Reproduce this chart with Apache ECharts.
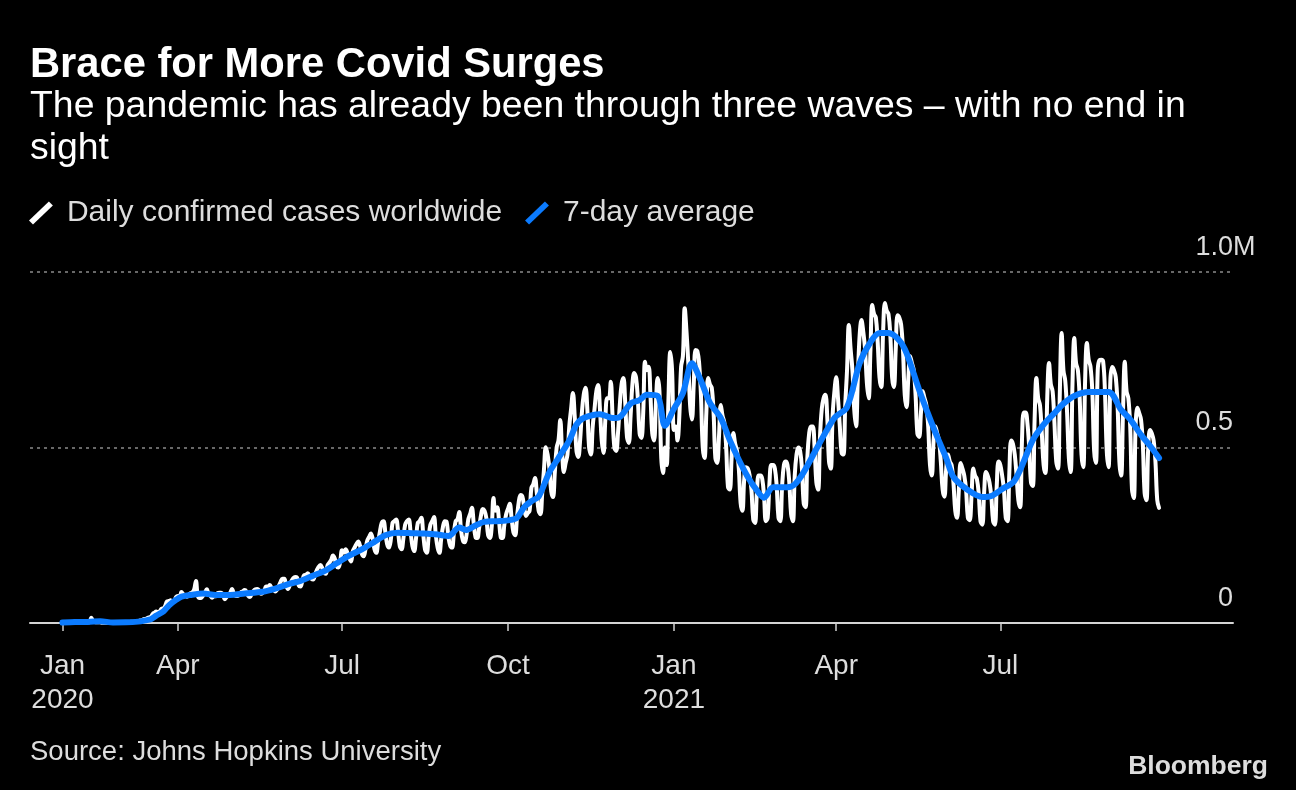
<!DOCTYPE html>
<html>
<head>
<meta charset="utf-8">
<script src="https://cdn.jsdelivr.net/npm/echarts@6/dist/echarts.min.js"></script>
<style>
  html, body { margin: 0; padding: 0; background: #000; }
  #chart { width: 1296px; height: 790px; }
</style>
</head>
<body>
<div id="chart"></div>
<script>
// ---------------- DATA ----------------
// Daily confirmed cases worldwide (thousands), one row per week (Tue..Mon), starting 2020-01-28
const dailyStart = '2020-01-28';
const dailyCasesK = [
  1.5, 1.7, 2.0, 2.1, 2.6, 2.8, 3.2,
  3.9, 3.7, 3.2, 3.4, 2.7, 3.0, 2.5,
  2.1, 2.0, 15.2, 5.1, 2.6, 2.0, 2.1,
  1.9, 0.6, 1.0, 1.0, 1.0, 1.5, 0.6,
  1.0, 1.0, 1.4, 1.8, 1.8, 1.9, 1.8,
  2.4, 2.2, 2.9, 3.9, 3.9, 3.9, 4.0,
  4.8, 7.2, 7.5, 10.9, 11.6, 13.9, 16.1,
  17.9, 25.7, 29.3, 32.6, 30.8, 33.8, 41.0,
  41.4, 49.4, 61.7, 62.6, 65.0, 57.2, 62.6,
  74, 77, 77, 88, 82, 80, 75,
  80, 85, 87, 95, 120, 78, 71,
  72, 78, 86, 96, 83, 78, 72,
  76, 76, 85, 86, 86, 81, 68,
  74, 78, 86, 97, 84, 77, 77,
  80, 88, 90, 94, 90, 77, 74,
  84, 92, 96, 97, 93, 83, 86,
  94, 104, 104, 108, 100, 98, 90,
  95, 106, 118, 126, 126, 106, 97,
  107, 120, 128, 131, 130, 107, 104,
  121, 136, 137, 142, 133, 126, 124,
  137, 150, 160, 165, 157, 143, 140,
  165, 172, 180, 192, 183, 162, 158,
  175, 207, 200, 210, 200, 185, 175,
  205, 215, 225, 232, 220, 197, 190,
  210, 235, 245, 255, 240, 210, 200,
  230, 260, 285, 290, 260, 225, 215,
  235, 285, 290, 295, 265, 220, 210,
  240, 280, 290, 295, 260, 220, 205,
  240, 285, 290, 300, 255, 210, 200,
  245, 280, 290, 302, 250, 215, 200,
  240, 275, 290, 288, 245, 220, 215,
  255, 290, 295, 316, 265, 235, 230,
  250, 295, 310, 328, 285, 245, 242,
  270, 305, 325, 320, 300, 250, 242,
  275, 356, 320, 330, 295, 245, 242,
  280, 310, 325, 340, 300, 259, 250,
  300, 345, 365, 360, 330, 305, 313,
  320, 385, 395, 413, 370, 320, 310,
  370, 440, 501, 480, 440, 375, 359,
  430, 500, 520, 578, 490, 430, 456,
  480, 560, 610, 655, 590, 490, 473,
  520, 600, 650, 670, 610, 500, 480,
  560, 610, 660, 678, 610, 520, 484,
  580, 640, 640, 687, 590, 500, 490,
  540, 620, 680, 698, 630, 530, 513,
  590, 680, 712, 700, 640, 540, 527,
  600, 744, 720, 730, 650, 540, 520,
  620, 698, 660, 470, 427, 500, 450,
  640, 772, 720, 550, 560, 520, 587,
  730, 760, 897, 830, 740, 620, 580,
  680, 778, 775, 740, 650, 500, 470,
  600, 698, 680, 670, 600, 470, 456,
  530, 621, 590, 570, 500, 387, 380,
  470, 541, 510, 490, 440, 342, 320,
  410, 444, 440, 420, 380, 295, 285,
  370, 420, 420, 410, 360, 290, 300,
  400, 450, 450, 440, 390, 300, 290,
  390, 450, 460, 450, 400, 310, 290,
  420, 480, 500, 490, 440, 340, 330,
  470, 540, 560, 560, 500, 400, 380,
  530, 610, 640, 650, 590, 460, 440,
  590, 660, 700, 640, 560, 484, 480,
  620, 720, 849, 780, 720, 607, 560,
  700, 820, 863, 830, 780, 684, 640,
  780, 906, 880, 870, 800, 700, 672,
  830, 912, 890, 880, 820, 700, 672,
  780, 877, 870, 850, 780, 650, 615,
  700, 760, 740, 720, 650, 540, 530,
  600, 660, 640, 620, 560, 450, 420,
  520, 560, 540, 520, 460, 380, 360,
  440, 480, 460, 450, 400, 320, 300,
  380, 456, 440, 420, 380, 300, 293,
  360, 440, 420, 410, 370, 290, 280,
  370, 430, 420, 400, 360, 290, 280,
  390, 460, 450, 420, 380, 300, 290,
  430, 520, 510, 480, 420, 350, 330,
  520, 600, 600, 570, 500, 400, 390,
  580, 698, 640, 620, 540, 450, 427,
  640, 741, 680, 660, 570, 460, 440,
  660, 826, 720, 690, 600, 470, 430,
  680, 812, 740, 720, 640, 480, 444,
  690, 798, 750, 730, 660, 490, 456,
  720, 749, 750, 745, 660, 490, 444,
  690, 729, 720, 700, 620, 460, 420,
  600, 744, 660, 640, 560, 380, 356,
  560, 613, 598, 580, 510, 370, 350,
  500, 550, 540, 520, 460, 350, 328
];

// 7-day average (thousands), read at these dates
const avgDates = [
  '2020-01-28','2020-02-04','2020-02-11','2020-02-18','2020-02-25','2020-03-03','2020-03-10','2020-03-14',
  '2020-03-17','2020-03-20','2020-03-24','2020-03-27','2020-03-31','2020-04-03','2020-04-08','2020-04-15',
  '2020-04-22','2020-04-30','2020-05-08','2020-05-18','2020-05-25','2020-06-02','2020-06-08','2020-06-15',
  '2020-06-22','2020-06-28','2020-07-05','2020-07-12','2020-07-18','2020-07-25','2020-08-01','2020-08-09',
  '2020-08-16','2020-08-23','2020-08-29','2020-09-04','2020-09-08','2020-09-13','2020-09-18','2020-09-25',
  '2020-10-02','2020-10-06','2020-10-10','2020-10-14','2020-10-18','2020-10-24','2020-10-29','2020-11-04',
  '2020-11-08','2020-11-12','2020-11-21','2020-11-28','2020-12-02','2020-12-08','2020-12-13','2020-12-17',
  '2020-12-23','2020-12-27','2021-01-01','2021-01-06','2021-01-11','2021-01-16','2021-01-21','2021-01-27',
  '2021-02-01','2021-02-06','2021-02-11','2021-02-15','2021-02-20','2021-02-25','2021-03-05','2021-03-09',
  '2021-03-14','2021-03-22','2021-03-31','2021-04-07','2021-04-14','2021-04-20','2021-04-25','2021-04-30',
  '2021-05-06','2021-05-10','2021-05-17','2021-05-22','2021-05-27','2021-06-01','2021-06-05','2021-06-13',
  '2021-06-21','2021-06-26','2021-07-03','2021-07-08','2021-07-12','2021-07-19','2021-07-25','2021-07-31',
  '2021-08-05','2021-08-11','2021-08-19','2021-08-30','2021-09-06','2021-09-11','2021-09-17','2021-09-22',
  '2021-09-27'
];
const avgValuesK = [
  1.5, 3.0, 3.2, 5.0, 1.5, 1.8, 3.9, 7.5,
  11, 21, 33, 50, 66, 75, 80, 84,
  80, 80, 84, 89, 98, 112, 120, 135,
  150, 170, 192, 210, 228, 250, 257, 256,
  255, 252, 248, 272, 265, 278, 288, 290,
  293, 300, 330, 347, 360, 430, 470, 520,
  565, 584, 595, 584, 587, 625, 635, 650,
  647, 562, 610, 655, 740, 690, 627, 584,
  521, 465, 416, 385, 357, 387, 387, 395,
  430, 505, 584, 615, 740, 800, 826, 826,
  805, 769, 664, 595, 530, 470, 416, 379,
  359, 362, 385, 400, 436, 521, 565, 598,
  625, 647, 658, 658, 607, 580, 536, 505,
  470
];

const tickDates = ['2020-01-28', '2020-04-01', '2020-07-01', '2020-10-01', '2021-01-01', '2021-04-01', '2021-07-01'];
const tickLabels = ['Jan\n2020', 'Apr', 'Jul', 'Oct', 'Jan\n2021', 'Apr', 'Jul'];
const yTickValues = [0, 500000, 1000000];
const yTickLabels = ['0', '0.5', '1.0'];
const yUnit = 'M';
const axisStart = '2020-01-10';
const axisEnd = '2021-11-07';

// ---------------- BUILD ----------------
function ts(s) { const p = s.split('-').map(Number); return Date.UTC(p[0], p[1] - 1, p[2]); }
const DAY = 86400000;
const t0 = ts(dailyStart);
const dailySeries = dailyCasesK.map((v, i) => [t0 + i * DAY, v * 1000]);
const avgSeries = avgDates.map((d, i) => [ts(d), avgValuesK[i] * 1000]);
const tickTs = tickDates.map(ts);

const BLUE = '#0b7bff';
const LIGHT = '#dddddd';
const FONT = '"Liberation Sans", Arial, sans-serif';
const SLASH = 'path://M0,20 L4.2,24.3 L25.2,4.3 L21,0 Z';

const chart = echarts.init(document.getElementById('chart'), null, { renderer: 'canvas' });
chart.setOption({
  backgroundColor: '#000',
  animation: false,
  textStyle: { fontFamily: FONT },
  title: [
    { text: 'Brace for More Covid Surges', left: 30, top: 45, padding: 0,
      textStyle: { color: '#fff', fontSize: 41.7, fontWeight: 'bold', lineHeight: 42, fontFamily: FONT } },
    { text: 'The pandemic has already been through three waves – with no end in\nsight', left: 30, top: 86, padding: 0,
      textStyle: { color: '#fff', fontSize: 37.4, fontWeight: 'normal', lineHeight: 42, fontFamily: FONT } },
    { text: 'Source: Johns Hopkins University', left: 30, top: 739, padding: 0,
      textStyle: { color: LIGHT, fontSize: 27.5, fontWeight: 'normal', lineHeight: 27, fontFamily: FONT } },
    { text: 'Bloomberg', right: 28, top: 753, padding: 0,
      textStyle: { color: LIGHT, fontSize: 26.5, fontWeight: 'bold', lineHeight: 27, fontFamily: FONT } }
  ],
  legend: {
    left: 29, top: 198, padding: 0,
    itemWidth: 24, itemHeight: 23, itemGap: 23,
    selectedMode: false,
    textStyle: { color: LIGHT, fontSize: 30, fontFamily: FONT, padding: [0, 0, 0, 9] },
    data: [
      { name: 'Daily confirmed cases worldwide', icon: SLASH, itemStyle: { color: '#fff' } },
      { name: '7-day average', icon: SLASH, itemStyle: { color: BLUE } }
    ]
  },
  grid: { left: 30, right: 63, top: 272, bottom: 167, containLabel: false },
  xAxis: {
    type: 'value',
    min: ts(axisStart),
    max: ts(axisEnd),
    axisLine: { show: true, onZero: false, lineStyle: { color: '#d4d4d4', width: 2 } },
    axisTick: { show: true, customValues: tickTs, length: 8, lineStyle: { color: '#cfcfcf', width: 1.5 } },
    axisLabel: {
      customValues: tickTs,
      showMinLabel: true, showMaxLabel: true,
      color: LIGHT, fontSize: 28, lineHeight: 34, margin: 26, fontFamily: FONT,
      formatter: function (v) {
        const i = tickTs.indexOf(v);
        return i >= 0 ? tickLabels[i] : '';
      }
    },
    splitLine: { show: false }
  },
  yAxis: {
    type: 'value',
    position: 'right',
    min: 0, max: 1000000, interval: 500000,
    axisLine: { show: false },
    axisTick: { show: false },
    axisLabel: {
      inside: true, margin: 0,
      color: LIGHT, fontSize: 27, lineHeight: 27, fontFamily: FONT,
      verticalAlign: 'bottom', padding: [0, 0, 11, 0],
      formatter: function (v) {
        const i = yTickValues.indexOf(v);
        if (i < 0) return '';
        return i === yTickValues.length - 1 ? '{n|' + yTickLabels[i] + '}{u|' + yUnit + '}' : '{n|' + yTickLabels[i] + '}';
      },
      rich: {
        n: { color: LIGHT, fontSize: 27, fontFamily: FONT, align: 'left' },
        u: { color: LIGHT, fontSize: 27, fontFamily: FONT, width: 0, align: 'left' }
      }
    },
    splitLine: { show: true, lineStyle: { color: '#8a8a8a', width: 1.5, type: [3, 4] } }
  },
  series: [
    {
      name: 'Daily confirmed cases worldwide',
      type: 'line',
      data: dailySeries,
      showSymbol: false,
      symbol: 'none',
      smooth: 0.4,
      lineStyle: { color: '#fff', width: 4, cap: 'round', join: 'round' },
      itemStyle: { color: '#fff' },
      z: 2
    },
    {
      name: '7-day average',
      type: 'line',
      data: avgSeries,
      showSymbol: false,
      symbol: 'none',
      smooth: 0.3,
      lineStyle: { color: BLUE, width: 6, cap: 'round', join: 'round' },
      itemStyle: { color: BLUE },
      z: 3
    }
  ]
});
</script>
</body>
</html>
